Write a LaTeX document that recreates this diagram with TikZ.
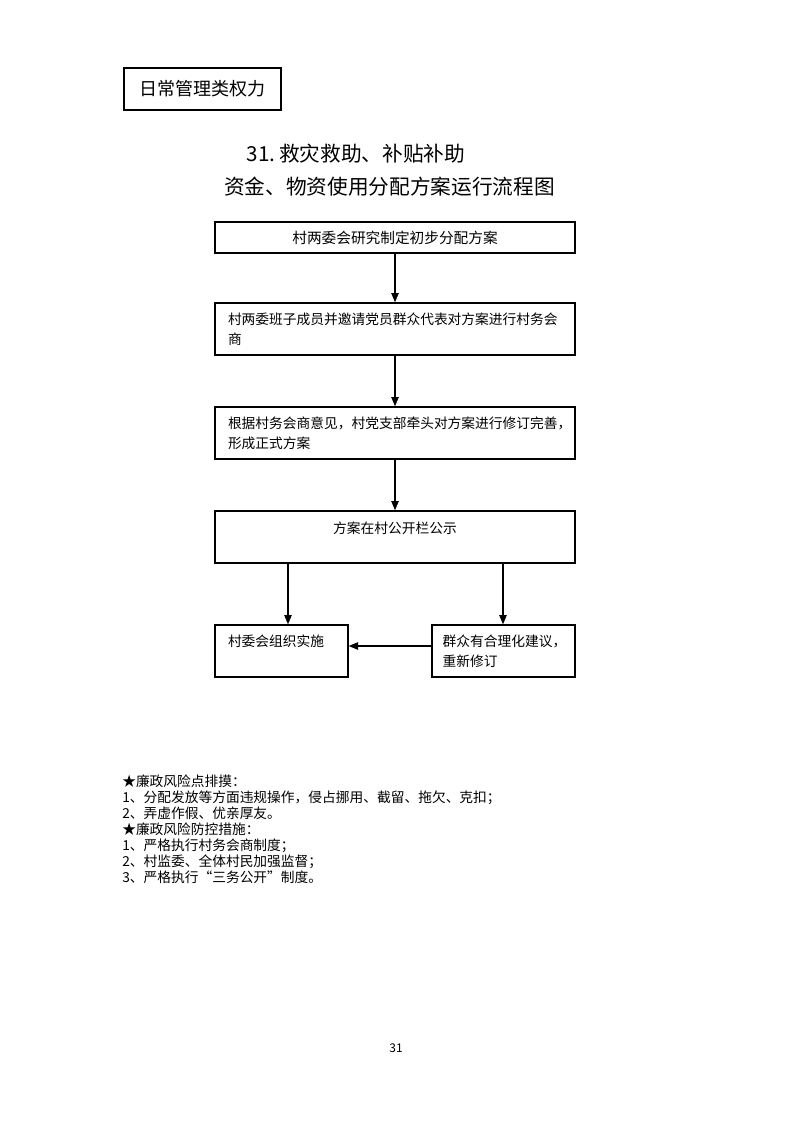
\documentclass[tikz,border=0pt]{standalone}
\usepackage{fontspec}
\setmainfont{Noto Sans CJK SC}
\usetikzlibrary{arrows.meta}
\begin{document}
\begin{tikzpicture}[x=0.75pt,y=-0.75pt,
  box/.style={draw,line width=1pt,minimum width=270pt,inner sep=0pt},
  smallbox/.style={draw,line width=1pt,inner ysep=0pt,inner xsep=9.75pt,minimum height=39pt,align=left},
  boxtext/.style={font=\fontsize{10.3}{15}\selectfont},
  arr/.style={line width=1pt,-{Triangle[length=7pt,width=5.5pt]}}]
\useasboundingbox[fill=white] (0,0) rectangle (793,1122);
% header
\node[draw,line width=1.1pt,minimum width=117.75pt,minimum height=31.5pt,inner sep=0pt,
  font=\fontsize{13.5}{16}\selectfont] (hdr) at (202.5,89) {日常管理类权力};
% title
\node[anchor=west,align=left,inner sep=0pt,font=\fontsize{15.5}{24.75}\selectfont] (title) at (224,170)
  {\hspace*{17pt}31.\,救灾救助、补贴补助\\资金、物资使用分配方案运行流程图};
% boxes
\node[box,minimum height=23.25pt,font=\fontsize{11}{13}\selectfont] (b1) at (395,237.5) {村两委会研究制定初步分配方案};
\node[box,minimum height=39pt,boxtext,align=left,inner xsep=9.75pt,text width=250.5pt] (b2) at (395,329)
  {村两委班子成员并邀请党员群众代表对方案进行村务会\\商};
\node[box,minimum height=39pt,boxtext,align=left,inner xsep=9.75pt,text width=250.5pt] (b3) at (395,433)
  {根据村务会商意见，村党支部牵头对方案进行修订完善，\\形成正式方案};
\node[box,minimum height=39pt,boxtext,text height=8pt,text depth=13.7pt] (b4) at (395,537) {方案在村公开栏公示};
\node[smallbox,boxtext,minimum width=99.75pt,text width=80.25pt,text height=8pt,text depth=15.2pt] (b5) at (281.5,651) {村委会组织实施};
\node[smallbox,boxtext,inner xsep=8pt,minimum width=107.25pt,text width=91.25pt] (b6) at (503.5,651) {群众有合理化建议，\\重新修订};
% connectors
\draw[arr] (b1.south) -- (b2.north);
\draw[arr] (b2.south) -- (b3.north);
\draw[arr] (b3.south) -- (b4.north);
\draw[arr] (b4.south -| 288,0) -- (288,0 |- b5.north);
\draw[arr] (b4.south -| 503,0) -- (503,0 |- b6.north);
\draw[arr] (b6.west |- 0,646) -- (b5.east |- 0,646);
% notes
\node[anchor=north west,align=left,inner sep=0pt,font=\fontsize{10.3}{12}\selectfont] (notes) at (122,775)
  {★廉政风险点排摸：\\
   1、分配发放等方面违规操作，侵占挪用、截留、拖欠、克扣；\\
   2、弄虚作假、优亲厚友。\\
   ★廉政风险防控措施：\\
   1、严格执行村务会商制度；\\
   2、村监委、全体村民加强监督；\\
   3、严格执行“三务公开”制度。};
\node[font=\fontsize{9}{11}\selectfont,inner sep=0pt] (pg) at (396,1048) {31};
\end{tikzpicture}
\end{document}
